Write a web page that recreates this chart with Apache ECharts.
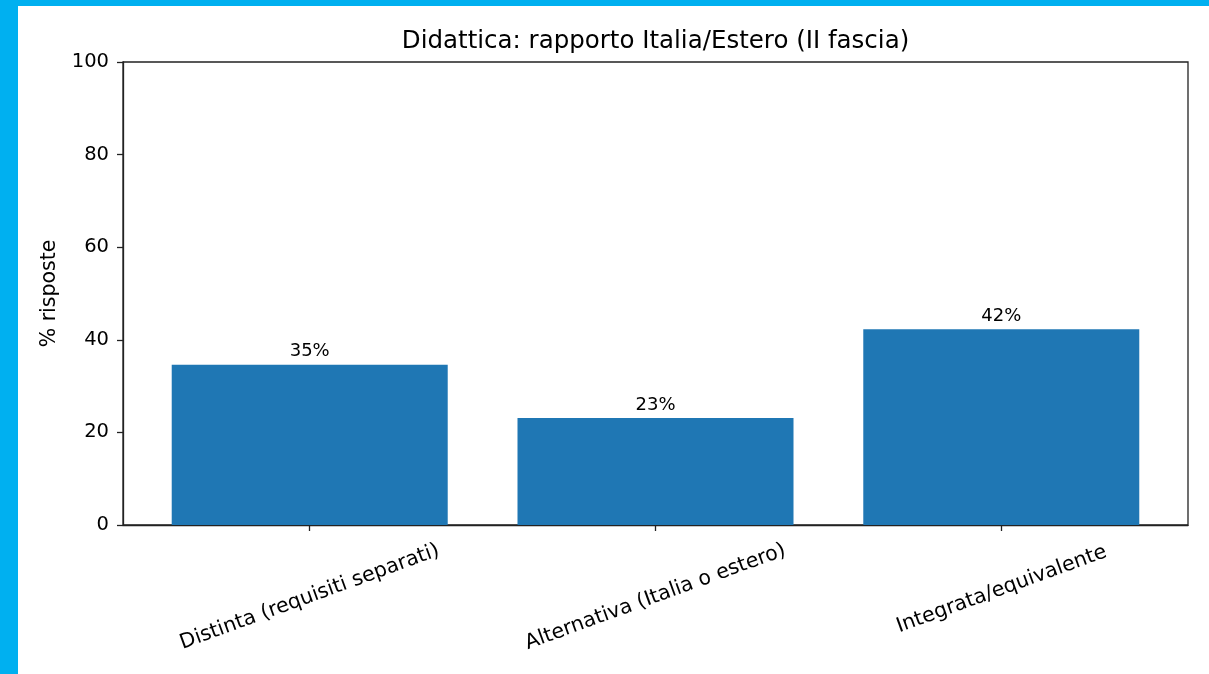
<!DOCTYPE html>
<html>
<head>
<meta charset="utf-8">
<script src="https://cdn.jsdelivr.net/npm/echarts@6/dist/echarts.min.js"></script>
<style>
  html, body { margin: 0; padding: 0; background: #fff; }
  #chart { position: absolute; left: 0; top: 0; width: 1209px; height: 674px; }
  .bt { position: absolute; left: 0; top: 0; width: 1209px; height: 6px; background: #00B0F0; }
  .bl { position: absolute; left: 0; top: 0; width: 18px; height: 674px; background: #00B0F0; }
</style>
</head>
<body>
<div id="chart"></div>
<div class="bt"></div>
<div class="bl"></div>
<script>
const titleText = 'Didattica: rapporto Italia/Estero (II fascia)';
const yAxisName = '% risposte';
const categories = ['Distinta (requisiti separati)', 'Alternativa (Italia o estero)', 'Integrata/equivalente'];
const values = [34.6, 23.1, 42.3];
const yTicks = [0, 20, 40, 60, 80, 100];

const positions = categories.map((c, i) => i);
const seriesData = values.map((v, i) => [positions[i], v]);
const FONT = 'DejaVu Sans';
const LINE = '#222';

const chart = echarts.init(document.getElementById('chart'), null, { renderer: 'canvas' });
chart.setOption({
  animation: false,
  backgroundColor: '#fff',
  title: {
    text: titleText,
    left: 655.5,
    textAlign: 'center',
    top: 29,
    padding: 0,
    textStyle: { fontFamily: FONT, fontSize: 24.5, fontWeight: 'normal', color: '#000' }
  },
  grid: {
    left: 123, right: 21, top: 62, bottom: 149,
    show: true, borderColor: LINE, borderWidth: 1.3, backgroundColor: 'transparent'
  },
  xAxis: {
    type: 'value',
    min: -0.54,
    max: 2.54,
    splitLine: { show: false },
    axisLine: { show: true, onZero: false, lineStyle: { color: LINE, width: 1.3 } },
    axisTick: { show: true, customValues: positions, length: 6, lineStyle: { color: LINE, width: 1.3 } },
    axisLabel: {
      customValues: positions,
      rotate: 20,
      align: 'center',
      verticalAlign: 'middle',
      margin: 72,
      fontFamily: FONT,
      fontSize: 20.5,
      color: '#000',
      formatter: function (v) {
        const i = Math.round(v);
        return '{l' + i + '|' + categories[i] + '}';
      },
      rich: {
        l0: { fontFamily: FONT, fontSize: 20.5, color: '#000' },
        l1: { fontFamily: FONT, fontSize: 20.5, color: '#000' },
        l2: { fontFamily: FONT, fontSize: 20.5, color: '#000', padding: [0, 0, 14, 6] }
      }
    }
  },
  yAxis: {
    type: 'value',
    min: 0,
    max: 100,
    interval: 20,
    name: yAxisName,
    nameLocation: 'middle',
    nameGap: 62.5,
    nameTextStyle: { fontFamily: FONT, fontSize: 20.5, color: '#000' },
    splitLine: { show: false },
    axisLine: { show: true, onZero: false, lineStyle: { color: LINE, width: 1.3 } },
    axisTick: { show: true, length: 6, lineStyle: { color: LINE, width: 1.3 } },
    axisLabel: {
      margin: 14,
      padding: [4, 0, 0, 0],
      fontFamily: FONT,
      fontSize: 19.5,
      color: '#000',
      customValues: yTicks
    }
  },
  series: [{
    type: 'bar',
    data: seriesData,
    barWidth: 276,
    itemStyle: { color: '#1f77b4' },
    label: {
      show: true,
      position: 'top',
      distance: 4,
      fontFamily: FONT,
      fontSize: 18,
      color: '#000',
      formatter: function (p) { return Math.round(p.value[1]) + '%'; }
    }
  }]
});
</script>
</body>
</html>
